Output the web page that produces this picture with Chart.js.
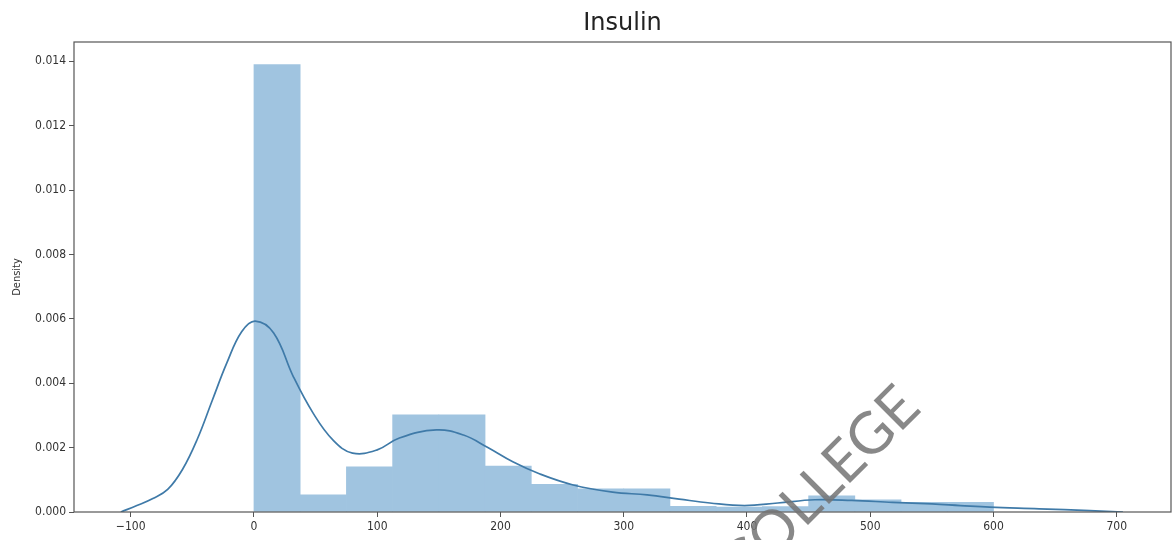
<!DOCTYPE html>
<html>
<head>
<meta charset="utf-8">
<title>Insulin</title>
<script src="https://cdn.jsdelivr.net/npm/chart.js@4.4.1/dist/chart.umd.min.js"></script>
<style>
  body { margin: 0; background: #fff; }
  #wrap { width: 1173px; height: 540px; position: relative; }
</style>
</head>
<body>
<div id="wrap"><canvas id="grafico"></canvas></div>
<script>
// ===== DADOS =====
const binEdges = [0, 37.5, 75, 112.5, 150, 187.5, 225, 262.5, 300, 337.5, 375, 412.5, 450, 487.5, 525, 562.5, 600];
const binHeights = [0.0139, 0.00053, 0.00140, 0.00302, 0.00302, 0.00143, 0.00086, 0.00072, 0.00072,
                    0.00018, 0.00015, 0.00017, 0.00050, 0.00038, 0.00030, 0.00030];

const kdeX = [-108, -95, -82, -70, -58, -46, -34, -22, -10, 1, 16, 32, 48, 64, 80, 100, 118, 148, 170, 189, 210,
              232, 259, 291, 319, 345, 370, 398, 425, 455, 485, 518, 550, 573, 597, 637, 678, 705];
const kdeY = [0, 0.0002, 0.00042, 0.0007, 0.00132, 0.00226, 0.00345, 0.00463, 0.0056, 0.00593,
              0.00556, 0.0042, 0.00307, 0.00224, 0.00183, 0.00193, 0.0023, 0.00255, 0.00239, 0.00202,
              0.00156, 0.00118, 0.00084, 0.00062, 0.00053, 0.0004, 0.00028, 0.0002, 0.00028, 0.00038,
              0.00036, 0.0003, 0.00025, 0.0002, 0.00015, 0.0001, 0.00004, 0];

const xTickValues = [-100, 0, 100, 200, 300, 400, 500, 600, 700];
const yTickValues = [0, 0.002, 0.004, 0.006, 0.008, 0.010, 0.012, 0.014];

const titulo = 'Insulin';
const eixoY = 'Density';
const marcaDagua = 'COLLEGE';

// ===== MONTAR DATASETS =====
const barras = binHeights.map((h, i) => ({ x: (binEdges[i] + binEdges[i + 1]) / 2, y: h }));
const curva = kdeX.map((x, i) => ({ x: x, y: kdeY[i] }));

const corTexto = '#333';
const corEixo = '#555';
const fonteTicks = { family: "'DejaVu Sans Condensed', 'DejaVu Sans', sans-serif", size: 12 };

// moldura, título centrado na área do gráfico e marca d'água
const molduraPlugin = {
    id: 'moldura',
    afterDatasetsDraw(chart) {
        const { ctx, chartArea: a } = chart;
        ctx.save();
        ctx.strokeStyle = corEixo;
        ctx.lineWidth = 1.2;
        ctx.strokeRect(a.left, a.top, a.right - a.left, a.bottom - a.top);
        ctx.restore();
    },
    afterDraw(chart) {
        const { ctx, chartArea: a } = chart;
        ctx.save();
        ctx.font = "24px 'DejaVu Sans', sans-serif";
        ctx.fillStyle = '#222';
        ctx.textAlign = 'center';
        ctx.textBaseline = 'middle';
        ctx.fillText(titulo, (a.left + a.right) / 2, 24);
        ctx.restore();

        ctx.save();
        ctx.translate(923, 410);
        ctx.rotate(-Math.PI / 4);
        ctx.font = "400 58px Lato, 'DejaVu Sans', sans-serif";
        ctx.fillStyle = 'rgba(115,115,115,0.85)';
        ctx.textAlign = 'right';
        ctx.textBaseline = 'alphabetic';
        ctx.fillText(marcaDagua, 0, 0);
        ctx.restore();
    }
};

new Chart(document.getElementById('grafico'), {
    type: 'bar',
    data: {
        datasets: [
            {
                type: 'line',
                data: curva,
                borderColor: '#3f7aa8',
                borderWidth: 1.7,
                pointRadius: 0,
                fill: false,
                tension: 0.4,
                order: 0
            },
            {
                type: 'bar',
                data: barras,
                backgroundColor: '#a0c4e0',
                borderWidth: 0,
                barPercentage: 1,
                categoryPercentage: 1,
                order: 1
            }
        ]
    },
    options: {
        responsive: true,
        maintainAspectRatio: false,
        animation: false,
        layout: { padding: { right: 2, top: 42 } },
        plugins: {
            legend: { display: false },
            tooltip: { enabled: false },
            title: { display: false }
        },
        scales: {
            x: {
                type: 'linear',
                min: -146,
                max: 744,
                offset: false,
                border: { display: false },
                grid: { drawOnChartArea: false, drawTicks: true, tickLength: 5, color: corEixo, offset: false },
                ticks: {
                    color: corTexto, font: fonteTicks, padding: 3, maxRotation: 0,
                    callback: v => String(v).replace('-', '\u2212')
                },
                afterBuildTicks(scale) { scale.ticks = xTickValues.map(v => ({ value: v })); },
                afterFit(scale) { scale.height = 28; }
            },
            y: {
                min: 0,
                max: 0.0146,
                border: { display: false },
                grid: { drawOnChartArea: false, drawTicks: true, tickLength: 5, color: corEixo },
                ticks: {
                    color: corTexto, font: fonteTicks, padding: 3,
                    callback: v => v.toFixed(3)
                },
                title: {
                    display: true,
                    text: eixoY,
                    color: corTexto,
                    font: { family: "'DejaVu Sans Condensed', 'DejaVu Sans', sans-serif", size: 11 },
                    padding: { top: 11, bottom: 0 }
                },
                afterBuildTicks(scale) { scale.ticks = yTickValues.map(v => ({ value: v })); },
                afterFit(scale) { scale.width = 74; }
            }
        }
    },
    plugins: [molduraPlugin]
});
</script>
</body>
</html>
